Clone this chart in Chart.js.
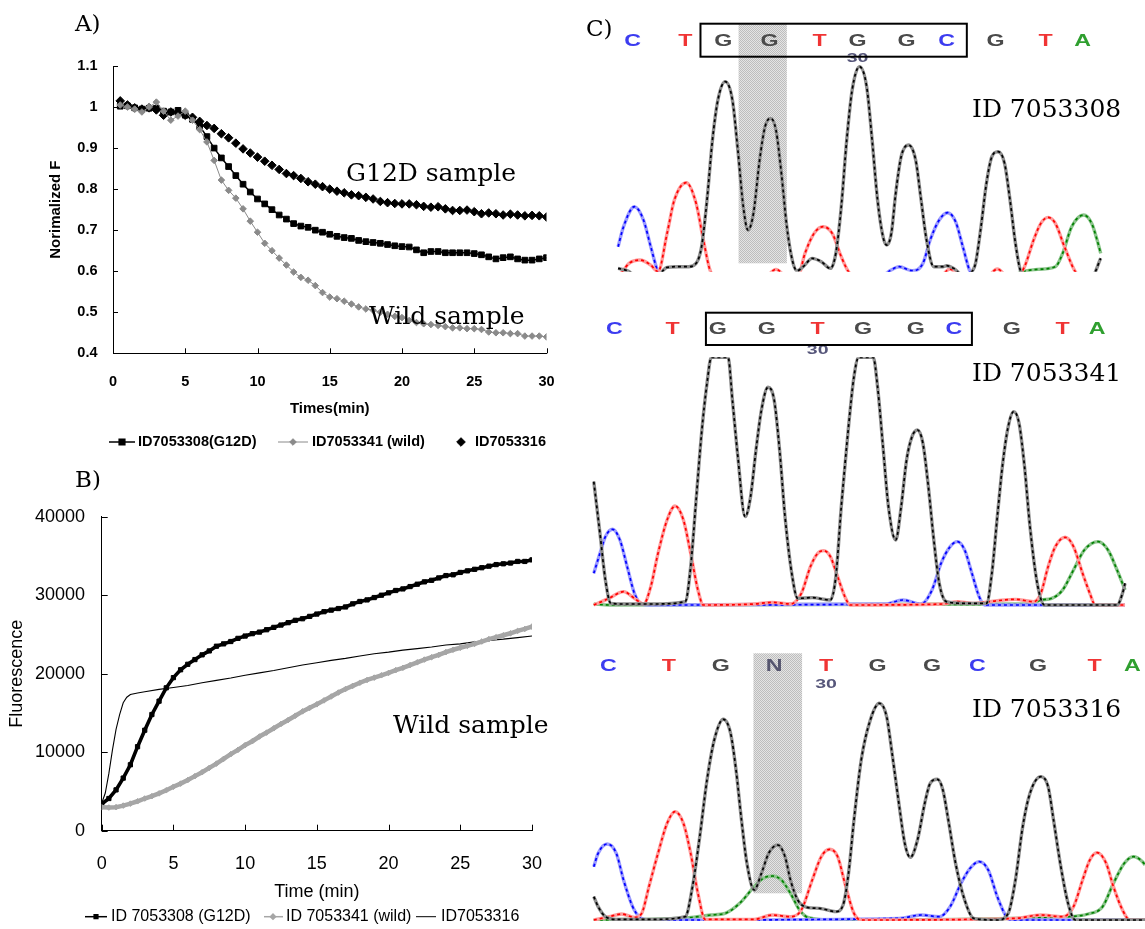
<!DOCTYPE html>
<html>
<head>
<meta charset="utf-8">
<script src="https://cdn.jsdelivr.net/npm/chart.js@4.4.1/dist/chart.umd.min.js"></script>
<style>
  html, body { margin: 0; padding: 0; background: #fff; }
  #stage { position: relative; width: 1145px; height: 929px; overflow: hidden; background: #fff; }
  .panel { position: absolute; }
  .lab { position: absolute; font-family: 'DejaVu Serif', serif; color: #000; white-space: nowrap; line-height: 1; transform: translateY(-50%); }
</style>
</head>
<body>
<div id="stage">
  <div class="panel" style="left:0;top:0;width:575px;height:460px"><canvas id="chartA" width="575" height="460"></canvas></div>
  <div class="panel" style="left:0;top:460px;width:575px;height:469px"><canvas id="chartB" width="575" height="469"></canvas></div>
  <div class="panel" style="left:580px;top:0;width:565px;height:300px"><canvas id="seq1" width="565" height="300"></canvas></div>
  <div class="panel" style="left:580px;top:300px;width:565px;height:320px"><canvas id="seq2" width="565" height="320"></canvas></div>
  <div class="panel" style="left:580px;top:620px;width:565px;height:309px"><canvas id="seq3" width="565" height="309"></canvas></div>

  <div class="lab" style="left:75px;top:23px;font-size:23px">A)</div>
  <div class="lab" style="left:346px;top:172px;font-size:25px">G12D sample</div>
  <div class="lab" style="left:369px;top:315px;font-size:25px">Wild sample</div>
  <div class="lab" style="left:75px;top:479px;font-size:23px">B)</div>
  <div class="lab" style="left:393px;top:724px;font-size:25px">Wild sample</div>
  <div class="lab" style="left:586px;top:28px;font-size:23px">C)</div>
  <div class="lab" style="left:972px;top:108px;font-size:25px">ID 7053308</div>
  <div class="lab" style="left:972px;top:372px;font-size:25px">ID 7053341</div>
  <div class="lab" style="left:972px;top:708px;font-size:25px">ID 7053316</div>
</div>

<script>
// ---------- Panel A: normalized fluorescence, sampled every 0.5 min ----------
const aTime = [0.5,1,1.5,2,2.5,3,3.5,4,4.5,5,5.5,6,6.5,7,7.5,8,8.5,9,9.5,10,
  10.5,11,11.5,12,12.5,13,13.5,14,14.5,15,15.5,16,16.5,17,17.5,18,18.5,19,19.5,20,
  20.5,21,21.5,22,22.5,23,23.5,24,24.5,25,25.5,26,26.5,27,27.5,28,28.5,29,29.5,30];
const aG12D = [1.002,1.003,0.998,0.995,0.997,0.997,0.990,0.988,0.992,0.980,
  0.970,0.953,0.928,0.900,0.876,0.855,0.833,0.812,0.793,0.776,
  0.764,0.750,0.737,0.727,0.716,0.710,0.707,0.700,0.695,0.690,
  0.685,0.682,0.680,0.675,0.672,0.670,0.668,0.665,0.662,0.660,
  0.659,0.652,0.645,0.648,0.648,0.645,0.645,0.645,0.645,0.643,
  0.640,0.635,0.630,0.633,0.635,0.630,0.627,0.627,0.630,0.633];
const aWild = [1.005,1.000,0.995,0.988,1.000,1.012,0.990,0.968,0.978,0.990,
  0.968,0.945,0.915,0.870,0.822,0.797,0.778,0.752,0.722,0.695,
  0.668,0.650,0.632,0.615,0.598,0.585,0.578,0.565,0.548,0.537,
  0.533,0.527,0.520,0.513,0.508,0.505,0.500,0.495,0.490,0.487,
  0.480,0.475,0.472,0.470,0.468,0.465,0.462,0.462,0.460,0.460,
  0.458,0.452,0.450,0.450,0.448,0.448,0.442,0.442,0.442,0.440];
const a7053316 = [1.015,1.005,0.998,0.995,0.998,0.993,0.980,0.988,0.985,0.980,
  0.975,0.965,0.955,0.948,0.935,0.925,0.912,0.898,0.888,0.878,
  0.868,0.858,0.848,0.838,0.833,0.826,0.818,0.812,0.806,0.800,
  0.795,0.791,0.786,0.784,0.780,0.776,0.770,0.767,0.765,0.764,
  0.764,0.762,0.758,0.756,0.757,0.752,0.748,0.748,0.749,0.745,
  0.740,0.742,0.740,0.737,0.739,0.737,0.735,0.736,0.735,0.732];

// ---------- Panel B: raw fluorescence ----------
const bTime = [0,0.5,1,1.5,2,2.5,3,3.5,4,4.5,5,5.5,6,6.5,7,7.5,8,8.5,9,9.5,
  10,10.5,11,11.5,12,12.5,13,13.5,14,14.5,15,15.5,16,16.5,17,17.5,18,18.5,19,19.5,
  20,20.5,21,21.5,22,22.5,23,23.5,24,24.5,25,25.5,26,26.5,27,27.5,28,28.5,29,29.5,30];
const bG12D = [3400,4100,5200,6700,8400,10700,12800,14800,16500,18200,
  19500,20500,21200,21800,22400,22900,23500,23800,24100,24500,
  24800,25100,25300,25600,25900,26200,26500,26800,27000,27300,
  27600,27900,28100,28300,28500,28900,29200,29400,29700,30000,
  30300,30600,30800,31100,31400,31700,31900,32200,32500,32600,
  32900,33100,33300,33500,33700,33900,34000,34100,34300,34300,34500];
const bWild = [3000,2950,3000,3200,3450,3750,4100,4400,4750,5150,
  5600,6000,6450,6950,7450,8000,8550,9150,9750,10300,
  10900,11400,12000,12500,13050,13600,14100,14650,15200,15650,
  16100,16600,17100,17600,18050,18450,18850,19200,19500,19800,
  20100,20450,20750,21100,21450,21800,22100,22400,22750,23050,
  23300,23550,23800,24100,24400,24650,24900,25150,25450,25700,26000];
const b7053316Time = [0,0.25,0.5,0.75,1,1.25,1.5,1.75,2,2.5,3,4,5,6,7,8,9,10,11,12,13,14,15,
  16,17,18,19,20,21,22,23,24,25,26,27,28,29,30];
const b7053316 = [3500,4800,7300,10300,12900,14800,16300,17000,17350,17550,17700,
  18000,18250,18500,18850,19150,19450,19800,20100,20400,20750,21100,21400,
  21700,21950,22250,22550,22750,23000,23200,23400,23650,23800,24050,24250,24400,24600,24800];

// ---------- Panel C: sequencing traces, [scan, signal] ----------
const c1Calls = ['C','T','G','G','T','G','G','C','G','T','A'];
const c1Pos = [145,290,395,522,660,765,900,1010,1145,1283,1385];
const c1Box = [332, 1066];
const c1Band = [437, 570];
const c1Base30 = 5;
const c1G = [[105,10],[130,3],[160,-15],[215,-15],[230,5],[240,13],[270,15],[300,15],[320,25],[335,75],[350,215],[365,395],[380,515],[400,570],[420,515],[435,365],[450,195],[463,125],[478,175],[495,335],[510,435],[525,460],[540,425],[555,295],[570,135],[585,35],[598,3],[615,15],[640,40],[665,30],[690,10],[705,55],[720,195],[735,395],[750,545],[770,615],[790,555],[805,395],[820,215],[835,105],[845,80],[858,115],[870,235],[885,345],[905,380],[925,335],[940,215],[955,95],[975,15],[1000,15],[1010,18],[1030,10],[1060,-15],[1080,0],[1090,25],[1105,135],[1120,265],[1135,345],[1152,360],[1170,325],[1185,215],[1200,85],[1215,0],[1235,-15],[1410,-15],[1435,40]];
const c1T = [[105,-15],[120,5],[135,25],[165,35],[195,20],[215,0],[240,115],[260,215],[293,267],[320,205],[340,95],[360,0],[380,-15],[510,-15],[540,7],[570,-15],[600,-15],[620,55],[645,115],[670,135],[695,115],[720,45],[740,0],[760,-15],[990,-15],[1020,8],[1050,-15],[1120,-15],[1150,8],[1180,-15],[1205,-15],[1225,15],[1250,95],[1270,145],[1290,163],[1310,145],[1335,75],[1365,0],[1385,-15],[1435,-15]];
const c1C = [[105,75],[120,135],[150,195],[175,155],[195,75],[215,0],[235,-15],[830,-15],[850,0],[880,15],[915,3],[945,25],[965,95],[990,155],[1013,177],[1035,150],[1055,75],[1075,0],[1095,-15],[1435,-15]];
const c1A = [[1190,-15],[1220,0],[1260,7],[1310,15],[1330,55],[1355,135],[1388,170],[1410,145],[1425,95],[1435,55]];

const c2Calls = ['C','T','G','G','T','G','G','C','G','T','A'];
const c2Pos = [95,255,380,515,655,780,925,1030,1190,1330,1425];
const c2Box = [347, 1080];
const c2Base30 = 4;
const c2G = [[38,370],[55,215],[70,75],[85,5],[120,3],[200,3],[290,10],[305,115],[320,315],[335,515],[350,665],[362,743],[408,743],[420,615],[435,445],[455,265],[470,325],[485,465],[500,585],[518,653],[535,615],[550,465],[565,265],[585,85],[600,20],[640,22],[690,15],[705,85],[720,295],[740,535],[755,685],[768,743],[808,743],[820,655],[835,475],[850,295],[870,195],[885,295],[900,435],[915,505],[930,525],[945,485],[960,355],[975,195],[990,65],[1010,10],[1060,5],[1120,5],[1135,95],[1150,265],[1165,425],[1180,535],[1195,580],[1210,545],[1225,415],[1240,235],[1260,65],[1280,0],[1480,0],[1495,35],[1502,65]];
const c2T = [[38,0],[80,20],[120,40],[150,20],[175,3],[195,55],[215,155],[240,255],[262,297],[285,255],[305,155],[325,45],[340,0],[480,3],[530,8],[580,3],[610,35],[635,115],[655,155],[672,163],[690,145],[710,85],[730,25],[745,0],[1000,3],[1040,10],[1080,5],[1150,13],[1200,17],[1250,10],[1270,35],[1290,115],[1310,175],[1337,203],[1360,175],[1385,95],[1405,35],[1420,0],[1502,0]];
const c2C = [[38,95],[55,155],[70,205],[90,227],[110,195],[130,115],[150,35],[170,3],[200,0],[840,3],[890,15],[940,3],[970,45],[995,125],[1020,175],[1040,190],[1060,165],[1080,95],[1100,25],[1115,0],[1502,0]];
const c2A = [[38,3],[80,0],[1240,3],[1270,15],[1300,20],[1330,45],[1360,105],[1390,165],[1428,190],[1455,165],[1480,105],[1502,45]];

const c3Calls = ['C','T','G','N','T','G','G','C','G','T','A'];
const c3Pos = [78,245,388,535,678,820,970,1095,1262,1418,1522];
const c3Band = [478, 612];
const c3Base30 = 4;
const c3G = [[38,70],[50,40],[70,10],[100,2],[200,2],[290,10],[310,100],[330,250],[350,420],[370,540],[395,602],[415,560],[430,450],[445,300],[460,170],[480,90],[500,140],[520,200],[545,225],[565,190],[580,120],[600,60],[625,38],[660,35],[705,25],[725,45],[740,140],[755,300],[775,480],[800,600],[825,650],[845,610],[860,500],[880,340],[895,230],[910,188],[930,240],[950,350],[965,410],[985,422],[1000,390],[1015,300],[1035,170],[1060,60],[1085,5],[1150,0],[1180,20],[1200,120],[1220,280],[1240,380],[1270,430],[1290,400],[1305,300],[1325,160],[1345,50],[1365,0],[1557,0]];
const c3T = [[38,0],[80,10],[115,18],[150,8],[170,20],[190,100],[215,200],[240,290],[262,325],[285,290],[305,200],[325,80],[345,2],[480,2],[530,15],[580,10],[610,30],[640,120],[665,190],[688,212],[710,190],[730,110],[755,20],[775,0],[1200,5],[1270,15],[1330,10],[1360,40],[1385,120],[1405,180],[1425,202],[1450,170],[1470,100],[1495,30],[1515,0],[1557,0]];
const c3C = [[38,160],[50,200],[75,228],[100,200],[120,120],[145,40],[165,8],[190,0],[880,5],[940,15],[990,10],[1020,40],[1050,110],[1075,155],[1100,175],[1125,150],[1150,70],[1175,10],[1190,0],[1557,0]];
const c3A = [[38,0],[300,7],[360,15],[400,20],[440,50],[480,100],[505,125],[530,132],[555,120],[580,80],[605,30],[630,7],[700,0],[1340,10],[1400,18],[1440,40],[1470,110],[1500,170],[1525,190],[1550,175],[1557,165]];

// ---------- shared styling ----------
const SANS = "'Liberation Sans', Arial, Helvetica, sans-serif";
const xy = (xs, ys) => xs.map((x, i) => ({ x, y: ys[i] }));

// inward tick marks on the two axes
const innerTicks = {
  id: 'innerTicks',
  afterDraw(chart, args, o) {
    const { ctx, chartArea: a, scales } = chart;
    ctx.save();
    ctx.strokeStyle = o.color; ctx.lineWidth = 1;
    ctx.beginPath();
    scales.x.ticks.forEach((t, i) => {
      const px = Math.round(scales.x.getPixelForTick(i)) + 0.5;
      ctx.moveTo(px, a.bottom); ctx.lineTo(px, a.bottom - o.len);
    });
    scales.y.ticks.forEach((t, i) => {
      const py = Math.round(scales.y.getPixelForTick(i)) + 0.5;
      ctx.moveTo(a.left, py); ctx.lineTo(a.left + o.len, py);
    });
    ctx.stroke();
    ctx.restore();
  }
};

// one-row legend below the axis title, symbols taken from the datasets
const legendRow = {
  id: 'legendRow',
  afterDraw(chart, args, o) {
    const ctx = chart.ctx;
    ctx.save();
    ctx.font = o.font; ctx.textBaseline = 'middle'; ctx.textAlign = 'left';
    o.items.forEach(it => {
      const ds = chart.data.datasets[it.ds];
      if (it.line) {
        ctx.strokeStyle = ds.borderColor; ctx.lineWidth = it.lw || 1.5;
        ctx.beginPath(); ctx.moveTo(it.line[0], o.y); ctx.lineTo(it.line[1], o.y); ctx.stroke();
      }
      if (it.mark != null) {
        ctx.fillStyle = ds.pointBackgroundColor; ctx.strokeStyle = ds.pointBorderColor;
        Chart.helpers.drawPoint(ctx, { pointStyle: ds.pointStyle, radius: it.r, borderWidth: 1, rotation: 0 }, it.mark, o.y);
      }
      ctx.fillStyle = '#000';
      ctx.fillText(ds.label, it.text, o.y);
    });
    ctx.restore();
  }
};

// ---------- Panel A chart ----------
new Chart(document.getElementById('chartA'), {
  type: 'line',
  data: {
    datasets: [
      { label: 'ID7053341 (wild)', data: xy(aTime, aWild), borderColor: '#8a8a8a', borderWidth: 1,
        pointStyle: 'rectRot', pointRadius: 3.3, pointBackgroundColor: '#8a8a8a', pointBorderColor: '#8a8a8a', pointBorderWidth: 1 },
      { label: 'ID7053308(G12D)', data: xy(aTime, aG12D), borderColor: '#000', borderWidth: 1.5,
        pointStyle: 'rect', pointRadius: 4, pointBackgroundColor: '#000', pointBorderColor: '#000', pointBorderWidth: 1 },
      { label: 'ID7053316', data: xy(aTime, a7053316), showLine: false, borderColor: '#000',
        pointStyle: 'rectRot', pointRadius: 4.3, pointBackgroundColor: '#000', pointBorderColor: '#000', pointBorderWidth: 1 }
    ]
  },
  options: {
    responsive: false, animation: false, devicePixelRatio: 1,
    layout: { padding: { left: 0, top: 66, right: 28.5, bottom: 41.7 } },
    plugins: {
      legend: { display: false }, tooltip: { enabled: false },
      innerTicks: { len: 5, color: '#000' },
      legendRow: {
        y: 442, font: 'bold 14.5px ' + SANS,
        items: [
          { ds: 1, line: [109, 135], mark: 122, r: 4, text: 138 },
          { ds: 0, line: [278, 308], mark: 293, r: 3.3, text: 312, lw: 1 },
          { ds: 2, mark: 461, r: 4.3, text: 475 }
        ]
      }
    },
    scales: {
      x: {
        type: 'linear', min: 0, max: 30,
        afterFit: s => { s.height = 65; },
        ticks: { stepSize: 5, padding: 19.7, color: '#000', maxRotation: 0, autoSkip: false,
          font: { family: SANS, size: 14.5, weight: 'bold' } },
        grid: { display: true, drawOnChartArea: false, drawTicks: false },
        border: { display: true, color: '#000', width: 1 },
        title: { display: true, text: 'Times(min)', color: '#000', padding: { top: 0, bottom: 0 },
          font: { family: SANS, size: 15, weight: 'bold' } }
      },
      y: {
        type: 'linear', min: 0.4, max: 1.1,
        afterFit: s => { s.width = 113; },
        ticks: { stepSize: 0.1, padding: 15.5, color: '#000',
          callback: v => String(Math.round(v * 10) / 10),
          font: { family: SANS, size: 14.5, weight: 'bold' } },
        grid: { display: true, drawOnChartArea: false, drawTicks: false },
        border: { display: true, color: '#000', width: 1 },
        title: { display: true, text: 'Norimalized F', color: '#000', padding: { top: 47, bottom: 0 },
          font: { family: SANS, size: 15, weight: 'bold' } }
      }
    }
  },
  plugins: [innerTicks, legendRow]
});

// ---------- Panel B chart ----------
new Chart(document.getElementById('chartB'), {
  type: 'line',
  data: {
    datasets: [
      { label: 'ID 7053341 (wild)', data: xy(bTime, bWild), borderColor: '#a6a6a6', borderWidth: 4.5,
        pointStyle: 'rectRot', pointRadius: 2.8, pointBackgroundColor: '#a6a6a6', pointBorderColor: '#a6a6a6', pointBorderWidth: 1 },
      { label: 'ID 7053308 (G12D)', data: xy(bTime, bG12D), borderColor: '#000', borderWidth: 3.6,
        pointStyle: 'rect', pointRadius: 3, pointBackgroundColor: '#000', pointBorderColor: '#000', pointBorderWidth: 1 },
      { label: 'ID7053316', data: xy(b7053316Time, b7053316), borderColor: '#000', borderWidth: 1.1, pointRadius: 0 }
    ]
  },
  options: {
    responsive: false, animation: false, devicePixelRatio: 1,
    layout: { padding: { left: 0, top: 56.7, right: 43, bottom: 26.5 } },
    plugins: {
      legend: { display: false }, tooltip: { enabled: false },
      innerTicks: { len: 6, color: '#000' },
      legendRow: {
        y: 456.7, font: '16px ' + SANS,
        items: [
          { ds: 1, line: [85, 107], mark: 96, r: 2.6, text: 111, lw: 1.5 },
          { ds: 0, line: [264, 283], mark: 273, r: 2.6, text: 286, lw: 1.5 },
          { ds: 2, line: [416, 436], text: 441, lw: 1 }
        ]
      }
    },
    scales: {
      x: {
        type: 'linear', min: 0, max: 30,
        afterFit: s => { s.height = 71.8; },
        ticks: { stepSize: 5, padding: 22.5, color: '#000', maxRotation: 0, autoSkip: false,
          font: { family: SANS, size: 18 } },
        grid: { display: true, drawOnChartArea: false, drawTicks: false },
        border: { display: true, color: '#000', width: 1 },
        title: { display: true, text: 'Time (min)', color: '#000', padding: { top: 0, bottom: 0 },
          font: { family: SANS, size: 18 } }
      },
      y: {
        type: 'linear', min: 0, max: 40000,
        afterFit: s => { s.width = 101.7; },
        ticks: { stepSize: 10000, padding: 16.7, color: '#000', callback: v => String(v),
          font: { family: SANS, size: 18 } },
        grid: { display: true, drawOnChartArea: false, drawTicks: false },
        border: { display: true, color: '#000', width: 1 },
        title: { display: true, text: 'Fluorescence', color: '#000', padding: { top: 6, bottom: 0 },
          font: { family: SANS, size: 18 } }
      }
    }
  },
  plugins: [innerTicks, legendRow]
});

// ---------- Panel C charts ----------
const BASE_COLORS = { C: '#3c3cf0', T: '#f03434', G: '#4a4a4a', A: '#2f9f2f', N: '#55556e' };

function dottedFill(ctx) {
  const c = document.createElement('canvas');
  c.width = 2; c.height = 2;
  const g = c.getContext('2d');
  g.fillStyle = '#e4e4e4'; g.fillRect(0, 0, 2, 2);
  g.fillStyle = '#bdbdbd'; g.fillRect(0, 0, 1, 1); g.fillRect(1, 1, 1, 1);
  return ctx.createPattern(c, 'repeat');
}

const seqMarks = {
  id: 'seqMarks',
  beforeDatasetsDraw(chart, args, o) {
    if (!o.band) return;
    const { ctx, scales: { x } } = chart;
    const x0 = x.getPixelForValue(o.band[0]), x1 = x.getPixelForValue(o.band[1]);
    ctx.save();
    ctx.fillStyle = dottedFill(ctx);
    ctx.fillRect(x0, o.bandY[0], x1 - x0, o.bandY[1] - o.bandY[0]);
    ctx.restore();
  },
  afterDraw(chart, args, o) {
    const { ctx, scales: { x } } = chart;
    ctx.save();
    ctx.textAlign = 'center'; ctx.textBaseline = 'middle';
    ctx.filter = 'blur(0.5px)';
    ctx.font = 'bold 16px ' + SANS;
    o.calls.forEach((b, i) => {
      ctx.save();
      ctx.translate(x.getPixelForValue(o.pos[i]), o.letterY);
      ctx.scale(1.45, 1);
      ctx.fillStyle = BASE_COLORS[b];
      ctx.fillText(b, 0, 0);
      ctx.restore();
    });
    ctx.save();
    ctx.font = 'bold 13px ' + SANS;
    ctx.translate(x.getPixelForValue(o.pos[o.base30]), o.numY);
    ctx.scale(1.5, 1);
    ctx.fillStyle = '#56567a';
    ctx.fillText('30', 0, 0);
    ctx.restore();
    ctx.filter = 'none';
    if (o.box) {
      const x0 = x.getPixelForValue(o.box[0]), x1 = x.getPixelForValue(o.box[1]);
      ctx.strokeStyle = '#000'; ctx.lineWidth = 2;
      ctx.strokeRect(x0, o.boxY[0], x1 - x0, o.boxY[1] - o.boxY[0]);
    }
    ctx.restore();
  }
};

// each channel: a dashed saturated stroke over a soft wide stroke
// (Chart.js paints the first dataset last, so the dashed one comes first)
const TRACE = {
  G: ['#8e8e8e', '#000000'],
  T: ['#ff9c9c', '#ff0000'],
  C: ['#9c9cff', '#0000ff'],
  A: ['#8cc48c', '#008000']
};

function traceSets(traces) {
  const out = [];
  traces.forEach(([base, pts]) => {
    const [soft, hard] = TRACE[base];
    out.push({ data: pts.map(p => ({ x: p[0], y: p[1] })), borderColor: hard, borderWidth: 1.7,
      borderDash: [3, 3], pointRadius: 0, cubicInterpolationMode: 'monotone' });
    out.push({ data: pts.map(p => ({ x: p[0], y: p[1] })), borderColor: soft, borderWidth: 3.4,
      pointRadius: 0, cubicInterpolationMode: 'monotone' });
  });
  return out;
}

function seqChart(id, traces, yMin, yMax, pad, marks) {
  new Chart(document.getElementById(id), {
    type: 'line',
    data: { datasets: traceSets(traces) },
    options: {
      responsive: false, animation: false, devicePixelRatio: 1,
      layout: { padding: { left: 0, right: 0, top: pad[0], bottom: pad[1] } },
      plugins: { legend: { display: false }, tooltip: { enabled: false }, seqMarks: marks },
      scales: {
        x: { type: 'linear', min: 0, max: 1557, display: false },
        y: { type: 'linear', min: yMin, max: yMax, display: false }
      }
    },
    plugins: [seqMarks]
  });
}

// channels listed top-most first
seqChart('seq1', [['G', c1G], ['T', c1T], ['C', c1C], ['A', c1A]], 0, 635, [60, 28.3], {
  calls: c1Calls, pos: c1Pos, letterY: 41.7, base30: c1Base30, numY: 58.5,
  box: c1Box, boxY: [23.7, 56.7], band: c1Band, bandY: [24, 263.3]
});
seqChart('seq2', [['G', c2G], ['T', c2T], ['C', c2C], ['A', c2A]], -6, 743, [57.3, 13], {
  calls: c2Calls, pos: c2Pos, letterY: 30, base30: c2Base30, numY: 50,
  box: c2Box, boxY: [12.7, 45]
});
seqChart('seq3', [['G', c3G], ['T', c3T], ['C', c3C], ['A', c3A]], -3, 800, [33.3, 8], {
  calls: c3Calls, pos: c3Pos, letterY: 46.7, base30: c3Base30, numY: 64,
  band: c3Band, bandY: [33.3, 273.3]
});
</script>
</body>
</html>
